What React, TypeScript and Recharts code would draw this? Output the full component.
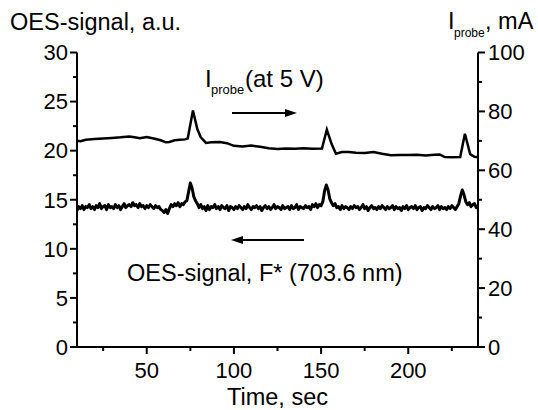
import React from "react";
import { LineChart, Line, XAxis, YAxis } from "recharts";

// Time axis (s) for the OES signal, 1 s steps from 10 to 240
const oesStart = 10;
const oesValues: number[] = [
  13.9, 14.3, 14.1, 14.4, 14.0, 14.3, 14.2, 14.5, 14.1, 14.3,
  14.0, 14.4, 14.2, 14.6, 14.1, 14.3, 14.4, 14.0, 14.5, 14.2,
  14.3, 14.1, 14.5, 14.2, 14.4, 14.0, 14.3, 14.6, 14.2, 14.4,
  14.5, 14.3, 14.7, 14.4, 14.5, 14.2, 14.6, 14.3, 14.4, 14.1,
  14.4, 14.2, 14.5, 14.3, 14.1, 14.4, 14.2, 14.3, 14.0, 13.9,
  13.7, 14.0, 13.6, 14.1, 14.5, 14.3, 14.6, 14.4, 14.7, 14.3,
  14.6, 14.5, 14.8, 14.9, 15.8, 16.7, 16.2, 15.3, 14.9, 14.6,
  14.2, 14.5, 14.1, 14.3, 13.9, 14.4, 14.0, 14.3, 14.2, 14.5,
  14.1, 14.3, 14.0, 14.4, 14.2, 14.1, 14.4, 13.9, 14.3, 14.2,
  14.0, 14.3, 14.1, 14.4, 14.2, 14.0, 14.3, 14.1, 14.5, 14.2,
  14.0, 14.3, 14.2, 14.4, 14.1, 14.3, 13.9, 14.2, 14.4, 14.1,
  14.3, 14.0, 14.2, 14.5, 14.1, 14.3, 14.2, 14.0, 14.4, 14.1,
  14.2, 14.3, 14.0, 14.4, 14.1, 14.2, 14.5, 14.0, 14.3, 14.2,
  14.1, 14.4, 14.2, 14.3, 14.0, 14.5, 14.3, 14.6, 14.2, 14.5,
  14.4, 14.8, 15.9, 16.5, 16.0, 15.1, 14.7, 14.4, 14.6, 14.2,
  14.3, 14.0, 14.4, 14.1, 14.3, 14.2, 14.0, 14.3, 14.1, 14.4,
  14.2, 14.3, 14.0, 14.2, 14.5, 14.1, 14.3, 13.9, 14.2, 14.4,
  14.1, 14.2, 14.0, 14.3, 14.1, 14.4, 14.2, 14.0, 14.3, 14.1,
  14.2, 14.4, 14.0, 14.3, 14.1, 14.2, 13.9, 14.3, 14.1, 14.4,
  14.0, 14.2, 14.3, 14.1, 14.4, 14.0, 14.2, 14.3, 13.9, 14.2,
  14.1, 14.4, 14.2, 14.0, 14.3, 14.1, 14.2, 14.4, 14.0, 14.3,
  14.1, 14.2, 14.0, 14.3, 14.1, 14.4, 14.2, 14.0, 14.3, 14.6,
  15.4, 16.0, 15.5, 14.8, 14.5, 14.7, 14.3, 14.5, 14.6, 14.2,
  14.4,
];

// Probe current (mA) sample times and values
const probeTimes: number[] = [
  10, 12, 15, 20, 25, 30, 35, 40, 43, 46, 50, 54, 58, 61, 63, 66, 69, 72,
  73.5, 76.5, 79, 81, 84, 87, 92, 96, 100, 105, 110, 115, 120, 125, 130,
  135, 140, 145, 150.5, 153.3, 156, 158.5, 162, 166, 170, 175, 180, 185,
  190, 195, 200, 205, 210, 215, 218, 221, 225, 229.8, 232.5, 235.5, 238, 240,
];
const probeValues: number[] = [
  70.0, 69.9, 70.4, 70.6, 70.8, 71.0, 71.2, 71.5, 71.2, 70.9, 71.3, 70.8,
  70.2, 69.5, 69.6, 70.2, 70.4, 70.5, 70.8, 80.3, 74.0, 71.2, 69.3, 69.5,
  69.6, 69.2, 68.3, 68.1, 68.4, 68.0, 67.5, 67.2, 67.4, 67.3, 67.5, 67.3,
  67.4, 73.8, 69.0, 65.6, 66.2, 66.2, 66.0, 65.9, 66.2, 65.6, 65.1, 65.2,
  65.2, 65.3, 65.0, 65.3, 65.4, 64.5, 64.4, 64.5, 72.4, 65.5, 64.6, 64.4,
];

// Axis ticks
const xTicks = [25, 50, 75, 100, 125, 150, 175, 200, 225];
const xLabelled = [50, 100, 150, 200];
const leftTicks = [0, 2.5, 5, 7.5, 10, 12.5, 15, 17.5, 20, 22.5, 25, 27.5, 30];
const leftLabelled = [0, 5, 10, 15, 20, 25, 30];
const rightTicks = [0, 10, 20, 30, 40, 50, 60, 70, 80, 90, 100];
const rightLabelled = [0, 20, 40, 60, 80, 100];

const oesData = oesValues.map((v, i) => ({ t: oesStart + i, oes: v }));
const probeData = probeTimes.map((t, i) => ({ t, mA: probeValues[i] }));

const FONT = "'Liberation Sans', Arial, sans-serif";
const TICK_FS = 22;

const XTick = (props: any) => {
  const { x, y, payload } = props;
  const major = xLabelled.includes(payload.value);
  return (
    <g>
      <line x1={x} y1={y} x2={x} y2={y + (major ? 7 : 4)} stroke="#000" strokeWidth={2} />
      {major && (
        <text x={x} y={y + 30.5} textAnchor="middle" fontSize={TICK_FS} fontFamily={FONT} fill="#000">
          {payload.value}
        </text>
      )}
    </g>
  );
};

const LeftTick = (props: any) => {
  const { x, y, payload } = props;
  const major = leftLabelled.includes(payload.value);
  return (
    <g>
      <line x1={x} y1={y} x2={x - (major ? 7 : 4)} y2={y} stroke="#000" strokeWidth={2} />
      {major && (
        <text x={x - 9} y={y + 7.8} textAnchor="end" fontSize={TICK_FS} fontFamily={FONT} fill="#000">
          {payload.value}
        </text>
      )}
    </g>
  );
};

const RightTick = (props: any) => {
  const { x, y, payload } = props;
  const major = rightLabelled.includes(payload.value);
  return (
    <g>
      <line x1={x} y1={y} x2={x + (major ? 7 : 4)} y2={y} stroke="#000" strokeWidth={2} />
      {major && (
        <text x={x + 10} y={y + 7.8} textAnchor="start" fontSize={TICK_FS} fontFamily={FONT} fill="#000">
          {payload.value}
        </text>
      )}
    </g>
  );
};

export default function App() {
  return (
    <div style={{ position: "absolute", left: 0, top: 0, width: 538, height: 410, background: "#fff" }}>
      <LineChart
        width={538}
        height={410}
        margin={{ top: 52.5, right: 0, bottom: 0, left: 0 }}
      >
        <XAxis
          dataKey="t"
          type="number"
          domain={[10, 240]}
          ticks={xTicks}
          interval={0}
          tickLine={false}
          tickSize={0}
          tickMargin={0}
          tick={<XTick />}
          axisLine={{ stroke: "#000", strokeWidth: 2 }}
          height={63}
          allowDataOverflow
        />
        <YAxis
          yAxisId="left"
          type="number"
          domain={[0, 30]}
          ticks={leftTicks}
          interval={0}
          tickLine={false}
          tickSize={0}
          tickMargin={0}
          tick={<LeftTick />}
          axisLine={{ stroke: "#000", strokeWidth: 2 }}
          width={77}
          allowDataOverflow
        />
        <YAxis
          yAxisId="right"
          orientation="right"
          type="number"
          domain={[0, 100]}
          ticks={rightTicks}
          interval={0}
          tickLine={false}
          tickSize={0}
          tickMargin={0}
          tick={<RightTick />}
          axisLine={{ stroke: "#000", strokeWidth: 2 }}
          width={60}
          allowDataOverflow
        />
        <Line
          data={probeData}
          dataKey="mA"
          yAxisId="right"
          stroke="#000"
          strokeWidth={2.5}
          dot={false}
          activeDot={false}
          type="linear"
          isAnimationActive={false}
        />
        <Line
          data={oesData}
          dataKey="oes"
          yAxisId="left"
          stroke="#000"
          strokeWidth={3}
          strokeLinejoin="round"
          dot={false}
          activeDot={false}
          type="linear"
          isAnimationActive={false}
        />
      </LineChart>
      <svg
        width={538}
        height={410}
        style={{ position: "absolute", left: 0, top: 0, pointerEvents: "none" }}
      >
        <g fontFamily={FONT} fill="#000">
          <text x={10} y={30} fontSize={23.5}>OES-signal, a.u.</text>
          <text x={448} y={29} fontSize={23.5}>I</text>
          <text x={454} y={37} fontSize={12}>probe</text>
          <text x={485} y={29} fontSize={23.5}>, mA</text>

          <text x={205} y={86.5} fontSize={24}>I</text>
          <text x={211} y={94} fontSize={13}>probe</text>
          <text x={245} y={86.5} fontSize={24}>(at 5 V)</text>

          <text x={127} y={281} fontSize={23.5}>OES-signal, F* (703.6 nm)</text>
          <text x={227} y={405} fontSize={23.5}>Time, sec</text>
        </g>
        <line x1={232} y1={113} x2={287} y2={113} stroke="#000" strokeWidth={2} />
        <polygon points="297,113 285,109 285,117" fill="#000" />
        <line x1={242} y1={240} x2={304} y2={240} stroke="#000" strokeWidth={2} />
        <polygon points="231,240 243,236 243,244" fill="#000" />
      </svg>
    </div>
  );
}
